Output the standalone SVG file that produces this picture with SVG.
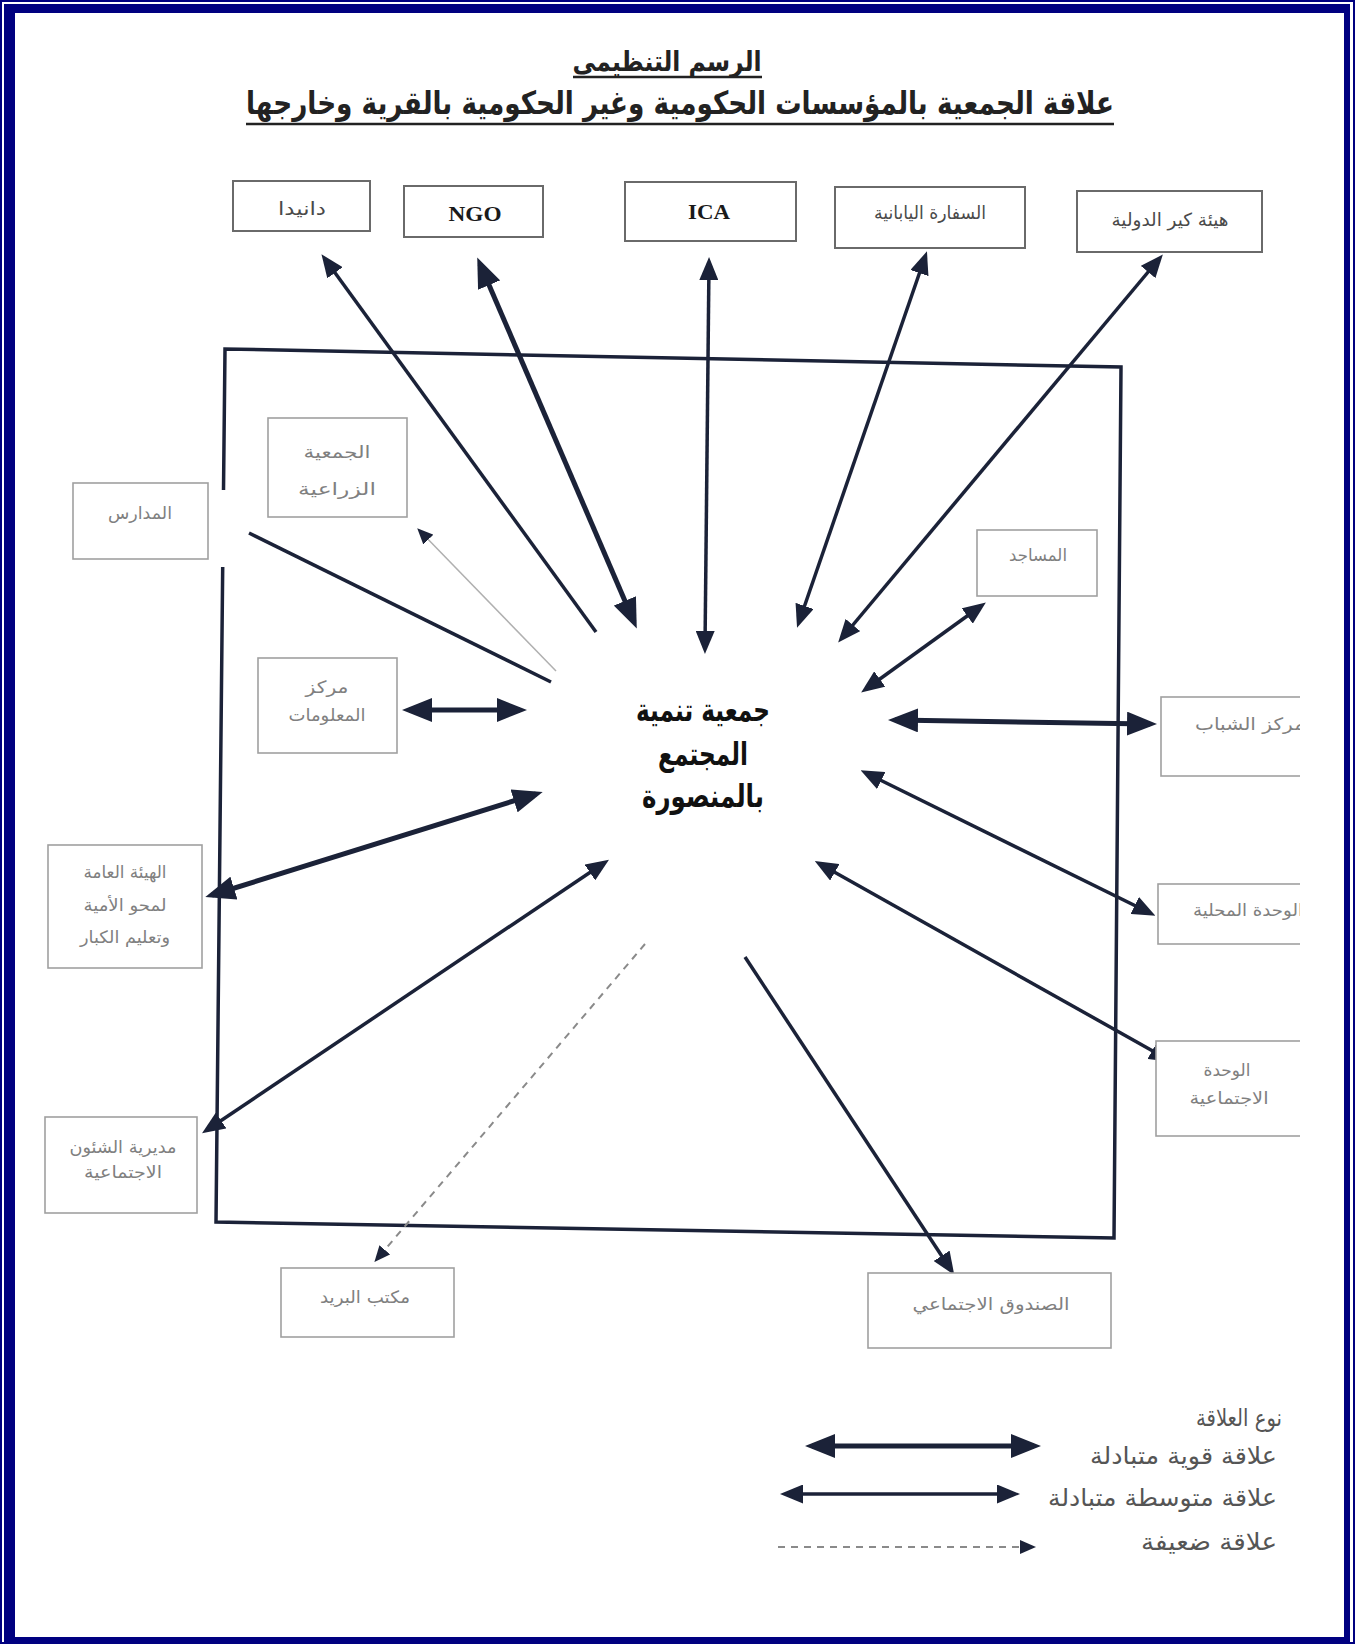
<svg xmlns="http://www.w3.org/2000/svg" width="1355" height="1644" viewBox="0 0 1355 1644">
<style>
.ar{font-family:"DejaVu Sans","Noto Sans",sans-serif}
.box{fill:#fff;stroke:#6a6a6a;stroke-width:2}
.lbox{fill:#fff;stroke:#a0a0a0;stroke-width:1.6}
.lbl{fill:#808080;font-size:17px}
.top{fill:#4a4a4a;font-size:18px}
.lat{font-family:"Liberation Serif",serif;font-weight:bold;font-size:22px;fill:#1a1a1a}
.strong{stroke:#1b2238;stroke-width:5;fill:none}
.med{stroke:#1b2238;stroke-width:3.5;fill:none}
.thin{stroke:#b0b0b0;stroke-width:1.5;fill:none}
.dash{stroke:#8a8a8a;stroke-width:2;fill:none;stroke-dasharray:7 6}
.leg{fill:#555;font-size:24px}
</style>
<defs>
<marker id="ms" viewBox="0 0 30 24" refX="23" refY="12" markerWidth="30" markerHeight="24" markerUnits="userSpaceOnUse" orient="auto-start-reverse"><path d="M0,0 L30,12 L0,24 z" fill="#1b2238"/></marker>
<marker id="mm" viewBox="0 0 23 19" refX="17" refY="9.5" markerWidth="23" markerHeight="19" markerUnits="userSpaceOnUse" orient="auto-start-reverse"><path d="M0,0 L23,9.5 L0,19 z" fill="#1b2238"/></marker>
<marker id="mx" viewBox="0 0 16 14" refX="12" refY="7" markerWidth="16" markerHeight="14" markerUnits="userSpaceOnUse" orient="auto-start-reverse"><path d="M0,0 L16,7 L0,14 z" fill="#1b2238"/></marker>
<clipPath id="rc"><rect x="0" y="0" width="1300" height="1644"/></clipPath>
</defs>
<!-- frame -->
<rect x="0" y="0" width="1355" height="1644" fill="#000080"/>
<rect x="2" y="2" width="1351" height="1640" fill="#ffffff"/>
<rect x="4" y="4" width="1346" height="1640" fill="#000080"/>
<rect x="15" y="13" width="1329" height="1624" fill="#ffffff"/>
<!-- title -->
<g id="title" class="ar" fill="#222" font-weight="bold" text-anchor="middle">
<text x="667" y="71" font-size="28" textLength="189" lengthAdjust="spacingAndGlyphs">الرسم التنظيمي</text>
<line x1="573" y1="77" x2="762" y2="77" stroke="#222" stroke-width="2.5"/>
<text x="680" y="114" font-size="32" textLength="868" lengthAdjust="spacingAndGlyphs">علاقة الجمعية بالمؤسسات الحكومية وغير الحكومية بالقرية وخارجها</text>
<line x1="246" y1="124" x2="1114" y2="124" stroke="#222" stroke-width="2.5"/>
</g>
<!-- village boundary -->
<path id="village" d="M223.5,490 L225,349 L1121,367 L1114,1238 L216,1222 L222.7,567" fill="none" stroke="#1b2238" stroke-width="3.5"/>
<!-- connectors -->
<g id="connectors">
<path class="med" d="M596,632 L325,259" marker-end="url(#mm)"/>
<path class="strong" d="M480,264 L634,622" marker-start="url(#ms)" marker-end="url(#ms)"/>
<path class="med" stroke-width="4" d="M709,263 L705,648" marker-start="url(#mm)" marker-end="url(#mm)"/>
<path class="med" d="M925,257 L799,622" marker-start="url(#mm)" marker-end="url(#mm)"/>
<path class="med" d="M1159,259 L842,638" marker-start="url(#mm)" marker-end="url(#mm)"/>
<path class="med" d="M981,606 L866,689" marker-start="url(#mm)" marker-end="url(#mm)"/>
<path class="strong" d="M895,720 L1150,724" marker-start="url(#ms)" marker-end="url(#ms)"/>
<path class="med" d="M866,773 L1150,913" marker-start="url(#mm)" marker-end="url(#mm)"/>
<path class="med" d="M820,864 L1167,1059" marker-start="url(#mm)" marker-end="url(#mm)"/>
<path class="med" stroke-width="3" d="M745,957 L951,1270" marker-end="url(#mm)"/>
<path class="dash" d="M645,944 L377,1259" marker-end="url(#mx)"/>
<path class="med" d="M207,1130 L604,863" marker-start="url(#mm)" marker-end="url(#mm)"/>
<path class="strong" d="M212,895 L536,794" marker-start="url(#ms)" marker-end="url(#ms)"/>
<path class="strong" d="M409,710 L520,710" marker-start="url(#ms)" marker-end="url(#ms)"/>
<path class="med" stroke-width="2.5" d="M249,533 L551,682"/>
<path class="thin" d="M556,671 L420,531" marker-end="url(#mx)"/>
</g>
<!-- top nodes -->
<g id="n-danida" class="ar"><rect class="box" x="233" y="181" width="137" height="50"/><text class="top" x="302" y="215" text-anchor="middle" textLength="48" lengthAdjust="spacingAndGlyphs">دانيدا</text></g>
<g id="n-ngo"><rect class="box" x="404" y="186" width="139" height="51"/><text class="lat" x="475" y="221" text-anchor="middle" textLength="53" lengthAdjust="spacingAndGlyphs">NGO</text></g>
<g id="n-ica"><rect class="box" x="625" y="182" width="171" height="59"/><text class="lat" x="709" y="219" text-anchor="middle" textLength="42" lengthAdjust="spacingAndGlyphs">ICA</text></g>
<g id="n-japan" class="ar"><rect class="box" x="835" y="187" width="190" height="61"/><text class="top" fill="#555" font-size="17" x="930" y="219" text-anchor="middle" textLength="112" lengthAdjust="spacingAndGlyphs">السفارة اليابانية</text></g>
<g id="n-care" class="ar"><rect class="box" x="1077" y="191" width="185" height="61"/><text class="top" fill="#555" font-size="17" x="1170" y="226" text-anchor="middle" textLength="117" lengthAdjust="spacingAndGlyphs">هيئة كير الدولية</text></g>
<!-- left nodes -->
<g id="n-schools" class="ar"><rect class="lbox" x="73" y="483" width="135" height="76"/><text class="lbl" font-size="16" x="140" y="519" text-anchor="middle" textLength="64" lengthAdjust="spacingAndGlyphs">المدارس</text></g>
<g id="n-agri" class="ar"><rect class="lbox" x="268" y="418" width="139" height="99"/><text class="lbl" font-size="21" x="337" y="458" text-anchor="middle" textLength="67" lengthAdjust="spacingAndGlyphs">الجمعية</text><text class="lbl" font-size="21" x="337" y="495" text-anchor="middle" textLength="78" lengthAdjust="spacingAndGlyphs">الزراعية</text></g>
<g id="n-info" class="ar"><rect class="lbox" x="258" y="658" width="139" height="95"/><text class="lbl" x="327" y="693" text-anchor="middle" textLength="43" lengthAdjust="spacingAndGlyphs">مركز</text><text class="lbl" x="327" y="721" text-anchor="middle" textLength="77" lengthAdjust="spacingAndGlyphs">المعلومات</text></g>
<g id="n-literacy" class="ar"><rect class="lbox" x="48" y="845" width="154" height="123"/><text class="lbl" x="125" y="878" text-anchor="middle" textLength="83" lengthAdjust="spacingAndGlyphs">الهيئة العامة</text><text class="lbl" x="125" y="911" text-anchor="middle" textLength="83" lengthAdjust="spacingAndGlyphs">لمحو الأمية</text><text class="lbl" x="125" y="943" text-anchor="middle" textLength="90" lengthAdjust="spacingAndGlyphs">وتعليم الكبار</text></g>
<g id="n-social-dir" class="ar"><rect class="lbox" x="45" y="1117" width="152" height="96"/><text class="lbl" font-size="16" x="123" y="1153" text-anchor="middle" textLength="107" lengthAdjust="spacingAndGlyphs">مديرية الشئون</text><text class="lbl" font-size="16" x="123" y="1178" text-anchor="middle" textLength="78" lengthAdjust="spacingAndGlyphs">الاجتماعية</text></g>
<!-- bottom nodes -->
<g id="n-post" class="ar"><rect class="lbox" stroke="#777" x="281" y="1268" width="173" height="69"/><text class="lbl" x="365" y="1303" text-anchor="middle" textLength="90" lengthAdjust="spacingAndGlyphs">مكتب البريد</text></g>
<g id="n-fund" class="ar"><rect class="lbox" stroke="#777" x="868" y="1273" width="243" height="75"/><text class="lbl" fill="#666" font-size="18" x="991" y="1310" text-anchor="middle" textLength="157" lengthAdjust="spacingAndGlyphs">الصندوق الاجتماعي</text></g>
<!-- right nodes -->
<g id="n-mosques" class="ar"><rect class="lbox" stroke="#777" x="977" y="530" width="120" height="66"/><text class="lbl" fill="#666" font-size="16" x="1038" y="561" text-anchor="middle" textLength="58" lengthAdjust="spacingAndGlyphs">المساجد</text></g>
<g id="right-nodes" class="ar" clip-path="url(#rc)">
<g id="n-youth"><rect class="lbox" stroke="#777" x="1161" y="697" width="160" height="79"/><text class="lbl" fill="#666" x="1305" y="730" text-anchor="end" textLength="110" lengthAdjust="spacingAndGlyphs">مركز الشباب</text></g>
<g id="n-local"><rect class="lbox" stroke="#777" x="1158" y="884" width="160" height="60"/><text class="lbl" fill="#666" x="1303" y="916" text-anchor="end" textLength="110" lengthAdjust="spacingAndGlyphs">الوحدة المحلية</text></g>
<g id="n-social-unit"><rect class="lbox" stroke="#777" x="1156" y="1041" width="160" height="95"/><text class="lbl" fill="#777" font-size="16" x="1227" y="1076" text-anchor="middle" textLength="47" lengthAdjust="spacingAndGlyphs">الوحدة</text><text class="lbl" fill="#777" font-size="16" x="1229" y="1104" text-anchor="middle" textLength="79" lengthAdjust="spacingAndGlyphs">الاجتماعية</text></g>
</g>
<!-- center node -->
<g id="n-center" class="ar" fill="#111" font-weight="bold" font-size="32" text-anchor="middle">
<text x="703" y="721" textLength="134" lengthAdjust="spacingAndGlyphs">جمعية تنمية</text>
<text x="703" y="765" textLength="90" lengthAdjust="spacingAndGlyphs">المجتمع</text>
<text x="703" y="807" textLength="122" lengthAdjust="spacingAndGlyphs">بالمنصورة</text>
</g>
<!-- legend -->
<g id="legend" class="ar" text-anchor="end">
<text class="leg" font-size="17" x="1282" y="1426" textLength="86" lengthAdjust="spacingAndGlyphs">نوع العلاقة</text>
<text class="leg" x="1277" y="1464" textLength="187" lengthAdjust="spacingAndGlyphs">علاقة قوية متبادلة</text>
<text class="leg" x="1277" y="1506" textLength="229" lengthAdjust="spacingAndGlyphs">علاقة متوسطة متبادلة</text>
<text class="leg" x="1277" y="1550" textLength="136" lengthAdjust="spacingAndGlyphs">علاقة ضعيفة</text>
<path class="strong" d="M812,1446 L1034,1446" marker-start="url(#ms)" marker-end="url(#ms)"/>
<path class="med" d="M786,1494 L1014,1494" marker-start="url(#mm)" marker-end="url(#mm)"/>
<path class="dash" stroke="#555" d="M778,1547 L1032,1547" marker-end="url(#mx)"/>
</g>
</svg>
